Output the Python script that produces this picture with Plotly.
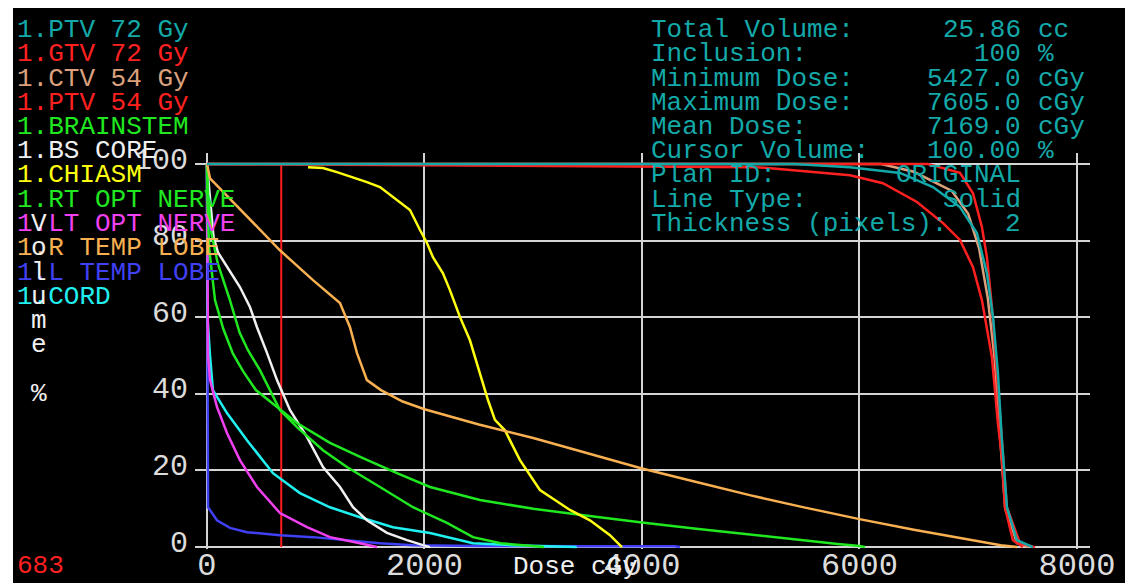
import plotly.graph_objects as go

# ---------------- data (dose in cGy, volume in %) ----------------
structures = ["1.PTV 72 Gy", "1.GTV 72 Gy", "1.CTV 54 Gy", "1.PTV 54 Gy", "1.BRAINSTEM",
              "1.BS CORE", "1.CHIASM", "1.RT OPT NERVE", "1.LT OPT NERVE",
              "1.R TEMP LOBE", "1.L TEMP LOBE", "1.CORD"]
colors = ["#14a9a9", "#ff2020", "#dca07c", "#ff2020", "#20e820",
          "#f0f0f0", "#ffff10", "#20e820", "#f040f0",
          "#f8b050", "#4040f4", "#20f0f0"]

ptv72_dose = [0, 5400, 5913, 6372, 6676, 6924, 7080, 7172, 7228, 7273, 7310, 7356, 7448, 7595]
ptv72_vol = [100, 100, 99.2, 97.7, 94.0, 88.8, 82.0, 71.5, 60.1, 45.4, 27.9, 10.4, 1.8, 0]

gtv72_dose = [0, 6630, 6924, 7044, 7126, 7172, 7218, 7264, 7310, 7356, 7476, 7614]
gtv72_vol = [100, 100, 97.7, 92.4, 83.6, 75.7, 62.7, 45.4, 27.9, 10.4, 1.0, 0]

ctv54_dose = [0, 6200, 6500, 6850, 7000, 7100, 7180, 7240, 7290, 7340, 7450, 7560]
ctv54_vol = [100, 100, 98, 93, 87, 78, 65, 50, 30, 10, 1, 0]

ptv54_dose = [0, 5057, 5913, 6216, 6529, 6768, 6924, 7044, 7126, 7172, 7218, 7246, 7273, 7310, 7338, 7411, 7503]
ptv54_vol = [100, 99.2, 97.1, 95.0, 90.1, 84.6, 80.2, 73.1, 64.5, 57.4, 49.6, 41.0, 32.4, 23.5, 10.4, 1.8, 0]

brainstem_dose = [0, 5, 20, 74, 150, 239, 330, 450, 644, 828, 1131, 1434, 1747, 2051, 2510,
                  3000, 3500, 4000, 4500, 5000, 5500, 5800, 6000, 6050]
brainstem_vol = [100, 90, 78, 64.5, 57, 50.5, 46, 41, 36.6, 32.4, 27.2, 23.2, 19.3, 15.7, 12.3,
                 10, 8.2, 6.4, 4.8, 3.2, 1.6, 0.8, 0.3, 0]

bscore_dose = [0, 30, 60, 100, 184, 303, 395, 460, 552, 644, 763, 920, 1067, 1223, 1343, 1471, 1655, 1839, 1986, 2050]
bscore_vol = [100, 90, 81, 77, 73.1, 67.9, 62.7, 57.4, 50.7, 43.6, 35.8, 28.7, 20.9, 15.7, 10.4, 7.0, 3.7, 1.8, 0.5, 0]

chiasm_dose = [929, 1067, 1195, 1343, 1471, 1591, 1710, 1867, 1959, 2023, 2078, 2170, 2234, 2326, 2418, 2510,
               2584, 2648, 2740, 2878, 2970, 3062, 3200, 3338, 3522, 3706, 3816]
chiasm_vol = [99.2, 99.0, 97.9, 96.6, 95.3, 94.0, 91.4, 88.0, 82.8, 79.4, 75.7, 71.5, 67.1, 60.1, 54.0, 45.4,
              38.4, 33.2, 30.5, 22.7, 18.8, 14.9, 12.3, 9.7, 7.0, 3.1, 0]

rtopt_dose = [0, 10, 40, 100, 211, 300, 377, 487, 671, 828, 1067, 1287, 1591, 1894, 2207, 2446, 2700, 3000, 3100]
rtopt_vol = [100, 92, 82, 74, 64.5, 56, 51.4, 46.2, 35.8, 31.3, 25.3, 20.9, 15.7, 10.4, 6.3, 2.6, 1.0, 0.3, 0]

ltopt_dose = [0, 5, 10, 28, 92, 184, 303, 460, 671, 920, 1131, 1407, 1563]
ltopt_vol = [100, 70, 50, 43.6, 36.6, 29.8, 22.7, 15.7, 8.9, 5.2, 2.6, 1.0, 0]

rtemp_dose = [0, 28, 671, 975, 1223, 1315, 1379, 1471, 1600, 1800, 2000, 2500, 3000, 3500, 4000,
              4500, 5000, 5500, 6000, 6500, 7000, 7300, 7450]
rtemp_vol = [100, 96.3, 77.5, 69.7, 63.7, 57.4, 50.7, 43.6, 41, 38, 36, 32, 28.5, 24.5, 20.5,
             17, 13.5, 10.3, 7.3, 4.5, 2, 0.5, 0]

ltemp_dose = [0, 5, 10, 92, 211, 368, 671, 975, 1287, 1591, 1894, 2500, 3500, 4300, 4350]
ltemp_vol = [100, 50, 10.4, 7.0, 5.0, 3.9, 3.1, 2.6, 1.8, 1.0, 0.5, 0.3, 0.2, 0.2, 0]

cord_dose = [0, 5, 28, 55, 184, 368, 607, 855, 1131, 1407, 1710, 2051, 2446, 2800, 3400]
cord_vol = [100, 60, 50, 41.0, 35.0, 27.9, 19.3, 14.1, 10.4, 7.8, 5.2, 3.7, 1.0, 0.5, 0]

cursor_dose = [683, 683]
cursor_vol = [0, 100]
cursor_label = "683"

x_ticks = [0, 2000, 4000, 6000, 8000]
y_ticks = [0, 20, 40, 60, 80, 100]

stat_labels = ["Total Volume:", "Inclusion:", "Minimum Dose:", "Maximum Dose:", "Mean Dose:",
               "Cursor Volume:", "Plan ID:", "Line Type:", "Thickness (pixels):"]
stat_values = ["25.86", "100", "5427.0", "7605.0", "7169.0", "100.00", "ORIGINAL", "Solid", "2"]
stat_units = ["cc", "%", "cGy", "cGy", "cGy", "%", "", "", ""]

y_title_chars = ["V", "o", "l", "u", "m", "e", " ", "%"]
x_title = "Dose cGy"

curves = {
    "1.PTV 72 Gy": (ptv72_dose, ptv72_vol),
    "1.GTV 72 Gy": (gtv72_dose, gtv72_vol),
    "1.CTV 54 Gy": (ctv54_dose, ctv54_vol),
    "1.PTV 54 Gy": (ptv54_dose, ptv54_vol),
    "1.BRAINSTEM": (brainstem_dose, brainstem_vol),
    "1.BS CORE": (bscore_dose, bscore_vol),
    "1.CHIASM": (chiasm_dose, chiasm_vol),
    "1.RT OPT NERVE": (rtopt_dose, rtopt_vol),
    "1.LT OPT NERVE": (ltopt_dose, ltopt_vol),
    "1.R TEMP LOBE": (rtemp_dose, rtemp_vol),
    "1.L TEMP LOBE": (ltemp_dose, ltemp_vol),
    "1.CORD": (cord_dose, cord_vol),
}
color_of = dict(zip(structures, colors))

# ---------------- figure geometry ----------------
OFF = 8                      # page body margin
W, H = 1134 - 2 * OFF, 585 - OFF
L, R, T, B = 195 - OFF, 1090 - OFF, 153 - OFF, 549 - OFF


def sx(x):
    """screen x pixel -> paper coordinate"""
    return (x - OFF - L) / (R - L)


def sy(y):
    """screen y pixel -> paper coordinate"""
    return (B - (y - OFF)) / (B - T)


fig = go.Figure()

fig.add_trace(go.Scatter(x=cursor_dose, y=cursor_vol, mode="lines",
                         line=dict(color="#ff1c1c", width=2), showlegend=False, hoverinfo="skip"))

draw_order = ["1.L TEMP LOBE", "1.CORD", "1.LT OPT NERVE", "1.BS CORE", "1.RT OPT NERVE",
              "1.BRAINSTEM", "1.CHIASM", "1.R TEMP LOBE", "1.CTV 54 Gy", "1.PTV 54 Gy",
              "1.GTV 72 Gy", "1.PTV 72 Gy"]
for name in draw_order:
    d, v = curves[name]
    fig.add_trace(go.Scatter(x=d, y=v, mode="lines", name=name,
                             line=dict(color=color_of[name], width=2.5, shape="linear"),
                             showlegend=False, hoverinfo="skip"))

mono = "Liberation Mono"
annotations = []
line_y0, line_dy = 30, 24.25
for i, name in enumerate(structures):
    annotations.append(dict(x=sx(15), y=sy(line_y0 + i * line_dy), xref="paper", yref="paper",
                            text=name, showarrow=False, xanchor="left", yanchor="middle",
                            font=dict(family=mono, size=26, color=color_of[name])))
for j, ch in enumerate(y_title_chars):
    if ch.strip():
        annotations.append(dict(x=sx(38.5), y=sy(line_y0 + (8 + j) * line_dy), xref="paper", yref="paper",
                                text=ch, showarrow=False, xanchor="center", yanchor="middle",
                                font=dict(family=mono, size=26, color="#f0f0f0")))
teal = "#14a9a9"
for i, (lab, val, unit) in enumerate(zip(stat_labels, stat_values, stat_units)):
    yy = sy(line_y0 + i * line_dy)
    annotations.append(dict(x=sx(649), y=yy, xref="paper", yref="paper", text=lab, showarrow=False,
                            xanchor="left", yanchor="middle", font=dict(family=mono, size=26, color=teal)))
    annotations.append(dict(x=sx(1023), y=yy, xref="paper", yref="paper", text=val, showarrow=False,
                            xanchor="right", yanchor="middle", font=dict(family=mono, size=26, color=teal)))
    if unit:
        annotations.append(dict(x=sx(1036), y=yy, xref="paper", yref="paper", text=unit, showarrow=False,
                                xanchor="left", yanchor="middle", font=dict(family=mono, size=26, color=teal)))
annotations.append(dict(x=sx(15), y=sy(566), xref="paper", yref="paper", text=cursor_label, showarrow=False,
                        xanchor="left", yanchor="middle", font=dict(family=mono, size=26, color="#ff2020")))
annotations.append(dict(x=sx(511), y=sy(567), xref="paper", yref="paper", text=x_title, showarrow=False,
                        xanchor="left", yanchor="middle", font=dict(family=mono, size=26, color="#f0f0f0")))

fig.update_layout(
    width=W, height=H,
    margin=dict(l=L, r=W - R, t=T, b=H - B, pad=0, autoexpand=False),
    paper_bgcolor="white", plot_bgcolor="black",
    showlegend=False,
    annotations=annotations,
    shapes=[dict(type="rect", xref="paper", yref="paper", x0=sx(13), x1=sx(1125), y0=sy(583), y1=sy(6),
                 fillcolor="black", line=dict(width=0), layer="below")],
    xaxis=dict(range=[-110, 8120], tickvals=x_ticks, ticktext=[str(t) for t in x_ticks],
               showgrid=True, gridcolor="#d4d4d4", gridwidth=2, zeroline=False, showline=False,
               automargin=False,
               ticks="", tickfont=dict(family=mono, size=32, color="#dcdcdc"), ticklabelstandoff=-7),
    yaxis=dict(range=[-0.5, 102.9], tickvals=y_ticks, ticktext=[str(t) for t in y_ticks],
               showgrid=True, gridcolor="#d4d4d4", gridwidth=2, zeroline=False, showline=False,
               automargin=False,
               ticks="", tickfont=dict(family=mono, size=30, color="#dcdcdc"),
               ticklabelstandoff=6, ticklabelshift=-6),
)

fig.write_html("out.html")
